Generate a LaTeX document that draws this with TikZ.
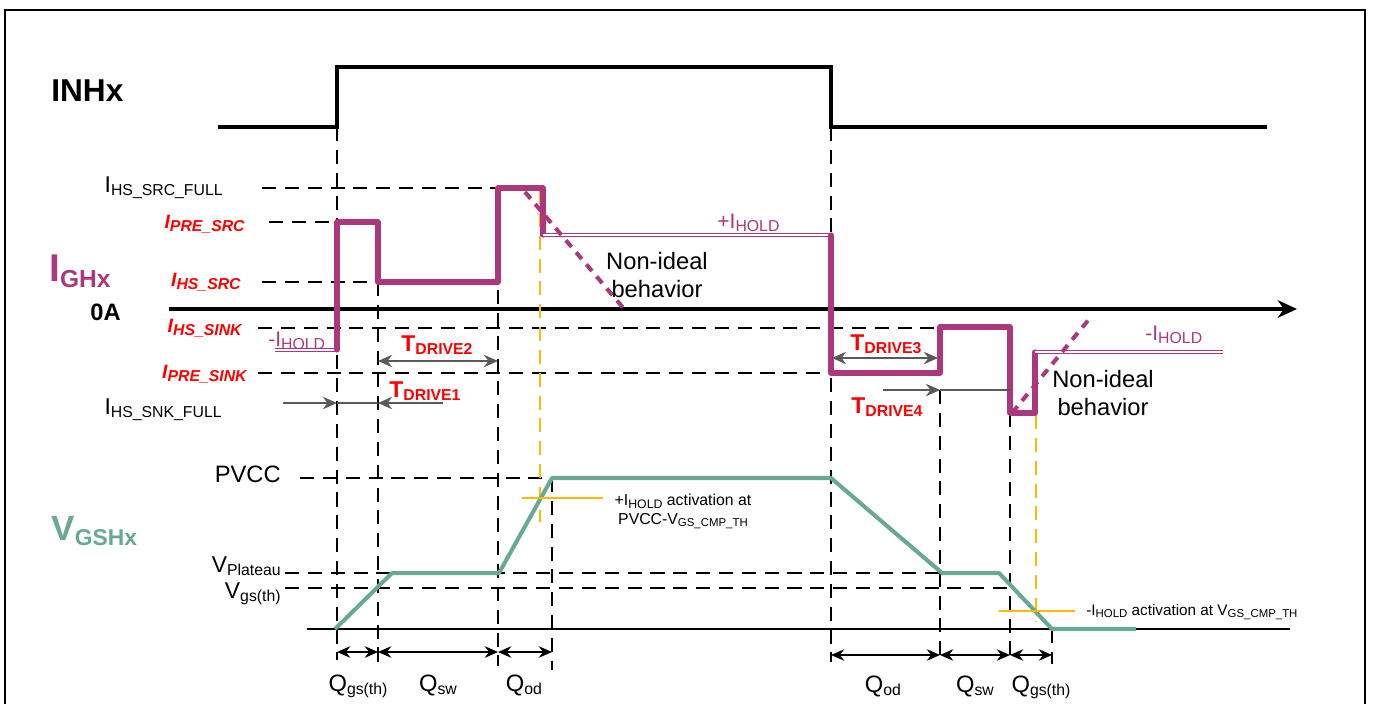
\documentclass[tikz,border=0pt]{standalone}
\usepackage{fontspec}
\setmainfont{Liberation Sans}
\usepackage{xcolor}
\usepackage{tikz}
\usetikzlibrary{arrows.meta}
\definecolor{ghxpurple}{RGB}{170, 56, 122}
\definecolor{vgsgreen}{RGB}{104, 168, 148}
\definecolor{holdyellow}{RGB}{255, 186, 0}
\definecolor{labelred}{RGB}{255, 0, 0}
\definecolor{drivegray}{RGB}{89, 89, 89}
\newcommand{\lsub}[2][9]{\raisebox{-0.3ex}{\fontsize{#1}{#1}\selectfont #2}}

\begin{document}
\begin{tikzpicture}[x=0.02cm, y=-0.02cm,
    guide/.style={dash pattern=on 8pt off 5pt, line width=0.8pt},
    wave/.style={line width=2.4pt},
    igate/.style={ghxpurple, line width=2.9pt, line join=round, line cap=round},
    hold/.style={draw=ghxpurple, double=white, double distance=1.3pt, line width=0.6pt},
    nonideal/.style={ghxpurple, line width=2.3pt, dash pattern=on 5pt off 4pt},
    vgate/.style={vgsgreen, line width=2.3pt, line join=round},
    trip/.style={holdyellow, line width=1.6pt},
    tripdash/.style={holdyellow, line width=1.1pt, dash pattern=on 8pt off 5pt},
    tdrive/.style={drivegray, line width=1.3pt, -{Stealth[length=8pt,width=7pt]}},
    tdrivetwo/.style={drivegray, line width=1.3pt, {Stealth[length=8pt,width=7pt]}-{Stealth[length=8pt,width=7pt]}},
    qarrow/.style={line width=1.3pt, {Stealth[length=7.5pt,width=6.5pt]}-{Stealth[length=7.5pt,width=6.5pt]}},
    lvl/.style={font=\fontsize{13}{15}\selectfont, anchor=base east, inner sep=0pt},
    redlvl/.style={text=labelred, font=\bfseries\itshape\fontsize{11}{13}\selectfont, anchor=base east, inner sep=0pt},
    drvlbl/.style={text=labelred, font=\bfseries\fontsize{13}{15}\selectfont, anchor=base, inner sep=0pt},
    qlbl/.style={font=\fontsize{13.5}{15}\selectfont, anchor=base, inner sep=0pt},
    holdlbl/.style={ghxpurple, font=\fontsize{12}{14}\selectfont, anchor=base west, inner sep=0pt},
    note/.style={font=\fontsize{13.5}{16}\selectfont, align=center, anchor=north, inner sep=0pt},
  ]
    \useasboundingbox (0,0) rectangle (1373,704);
    % Frame
    \draw[line width=1.4pt] (5,704) -- (5,10) -- (1365,10) -- (1365,704);

    % Guide lines
    \draw[guide] (262,188) -- (498,188);
    \draw[guide] (269,222) -- (337,222);
    \draw[guide] (262,282) -- (378,282);
    \draw[guide] (258,328) -- (940,328);
    \draw[guide] (258,373) -- (831,373);
    \draw[guide] (300,478) -- (552,478);
    \draw[guide] (285,573) -- (942,573);
    \draw[guide] (285,588) -- (1013,588);
    \draw[guide] (337,127) -- (337,660);
    \draw[guide] (378,282) -- (378,662);
    \draw[guide] (498,290) -- (498,666);
    \draw[guide] (552,478) -- (552,670);
    \draw[guide] (831,127) -- (831,662);
    \draw[guide] (940,390) -- (940,662);
    \draw[guide] (1010,413) -- (1010,662);
    \draw[guide] (1052,629) -- (1052,664);

    % INHx
    \node[font=\bfseries\fontsize{18}{20}\selectfont, anchor=base west, inner sep=0pt] (inhx) at (51,101) {INHx};
    \draw[wave] (218,127) -- (337,127) -- (337,67) -- (831,67) -- (831,127) -- (1267,127);

    % Gate current
    \node[ghxpurple, font=\bfseries\fontsize{22}{24}\selectfont, anchor=base west, inner sep=0pt] (ighx) at (49,281) {I\lsub[14]{GHx}};
    \node[font=\bfseries\fontsize{13.5}{15}\selectfont, anchor=base west, inner sep=0pt] (zeroamp) at (90,320) {0A};
    \draw[line width=2.4pt, -{Stealth[length=11pt,width=10pt]}] (169,309) -- (1297,309);

    \node[lvl] (ihssrcfull) at (223,192) {I\lsub{HS\_SRC\_FULL}};
    \node[redlvl] (ipresrc) at (245,228) {I\lsub{PRE\_SRC}};
    \node[redlvl] (ihssrc) at (241,286) {I\lsub{HS\_SRC}};
    \node[redlvl] (ihssink) at (242,332) {I\lsub{HS\_SINK}};
    \node[redlvl] (ipresink) at (247,378) {I\lsub{PRE\_SINK}};
    \node[lvl] (ihssnkfull) at (222,414) {I\lsub{HS\_SNK\_FULL}};

    % Hold thresholds
    \draw[tripdash] (540,190) -- (540,522);
    \draw[tripdash] (1036,415) -- (1036,622);

    \draw[hold] (275,350) -- (337,350);
    \draw[igate] (337,350) -- (337,222) -- (378,222) -- (378,282) -- (498,282) -- (498,188) -- (543,188) -- (543,235);
    \draw[hold] (543,235) -- (831,235);
    \draw[igate] (831,235) -- (831,373) -- (940,373) -- (940,327) -- (1010,327) -- (1010,413) -- (1035,413) -- (1035,352);
    \draw[hold] (1035,352) -- (1223,352);
    \draw[nonideal] (525,192) -- (625,310);
    \draw[nonideal] (1012,413) -- (1090,318);

    \node[holdlbl] (iholdlow) at (268,346) {-I\lsub{HOLD}};
    \node[holdlbl] (iholdon) at (717,228) {+I\lsub{HOLD}};
    \node[holdlbl] (iholdoff) at (1145,340) {-I\lsub{HOLD}};
    \node[note] (nonidealsrc) at (657,252) {Non-ideal\\behavior};
    \node[note] (nonidealsnk) at (1103,370) {Non-ideal\\behavior};

    % Drive times
    \draw[tdrivetwo] (378,361) -- (498,361);
    \draw[tdrive] (443,403) -- (378,403);
    \draw[drivegray, line width=0.6pt] (337,403) -- (378,403);
    \draw[tdrive] (283,403) -- (337,403);
    \draw[tdrivetwo] (832,358) -- (938,358);
    \draw[tdrive] (883,390) -- (940,390);
    \draw[drivegray, line width=0.6pt] (940,390) -- (1010,390);
    \node[drvlbl] (tdrv2) at (437,351) {T\lsub{DRIVE2}};
    \node[drvlbl] (tdrv1) at (425,397) {T\lsub{DRIVE1}};
    \node[drvlbl] (tdrv3) at (886,350) {T\lsub{DRIVE3}};
    \node[drvlbl] (tdrv4) at (887,413) {T\lsub{DRIVE4}};

    % Gate voltage
    \node[vgsgreen, font=\bfseries\fontsize{20}{22}\selectfont, anchor=base west, inner sep=0pt] (vgshx) at (51,540) {V\lsub[13]{GSHx}};
    \node[lvl, font=\fontsize{13.5}{15}\selectfont] (pvcc) at (281,482) {PVCC};
    \node[lvl] (vplateau) at (281,572) {V\lsub{Plateau}};
    \node[lvl] (vgsth) at (281,598) {V\lsub{gs(th)}};
    \draw[line width=1.4pt] (307,629) -- (1290,629);
    \draw[vgate] (335,629) -- (392,573) -- (499,573) -- (552,478) -- (831,478) -- (942,573) -- (999,573) -- (1052,629) -- (1136,629);
    \draw[trip] (522,498) -- (603,498);
    \draw[trip] (999,611) -- (1075,611);
    \node[font=\fontsize{9}{10.5}\selectfont, align=center, anchor=north, inner sep=0pt] (holdact) at (683,494) {+I\lsub[7]{HOLD} activation at\\PVCC-V\lsub[6.5]{GS\_CMP\_TH}};
    \node[font=\fontsize{8.7}{10}\selectfont, anchor=base west, inner sep=0pt] (holddeact) at (1086,615) {-I\lsub[6.5]{HOLD} activation at V\lsub[6.5]{GS\_CMP\_TH}};

    % Gate charge
    \draw[qarrow] (337,652) -- (378,652);
    \draw[qarrow] (378,652) -- (498,652);
    \draw[qarrow] (498,652) -- (552,652);
    \draw[qarrow] (831,655) -- (940,655);
    \draw[qarrow] (940,655) -- (1010,655);
    \draw[qarrow] (1010,655) -- (1052,655);
    \node[qlbl] (qgsrise) at (358,691) {Q\lsub{gs(th)}};
    \node[qlbl] (qswrise) at (438,691) {Q\lsub{sw}};
    \node[qlbl] (qodrise) at (524,691) {Q\lsub{od}};
    \node[qlbl] (qodfall) at (883,692) {Q\lsub{od}};
    \node[qlbl] (qswfall) at (975,692) {Q\lsub{sw}};
    \node[qlbl] (qgsfall) at (1041,692) {Q\lsub{gs(th)}};
\end{tikzpicture}
\end{document}
